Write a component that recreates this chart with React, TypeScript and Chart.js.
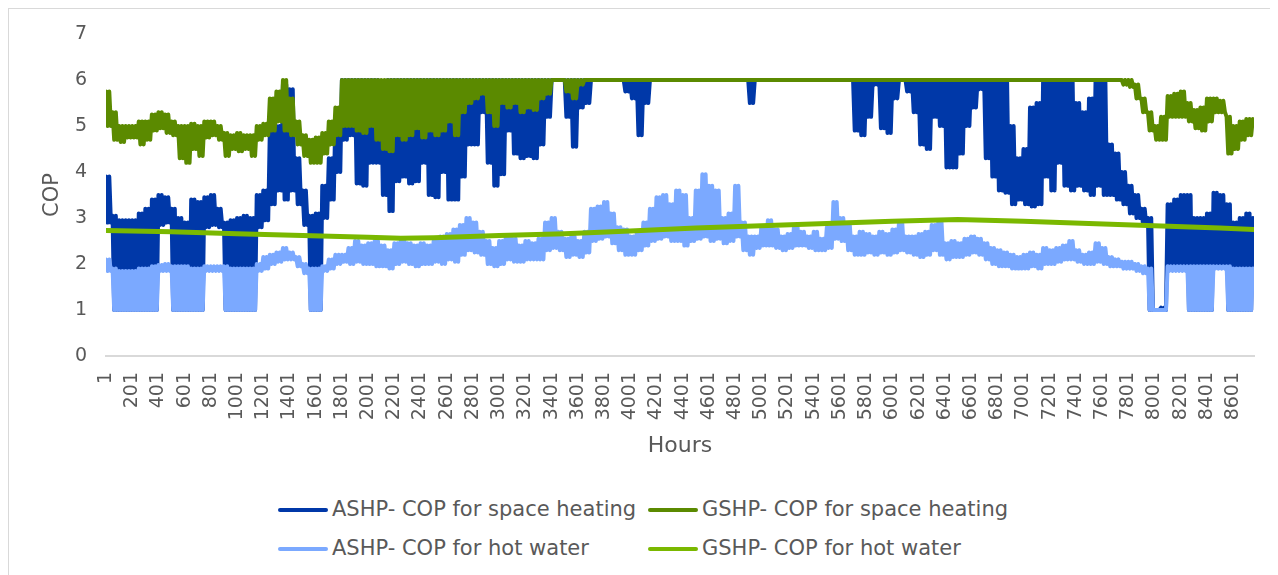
import React, { useEffect, useRef } from 'react';
import { Chart, registerables } from 'chart.js';

Chart.register(...registerables);

// Hourly COP, as upper / lower envelope per 50-hour block
// (block b covers hours 1+50b .. 50+50b)
const BLOCK_HOURS = 50;
const LAST_HOUR = 8760;

const ashpSpaceHi = [
  3.9, 3.05, 2.95, 2.95, 2.95, 3.1, 3.2, 3.4, 3.5, 3.45,
  3.2, 3.0, 2.9, 3.4, 3.35, 3.45, 3.5, 3.2, 2.9, 2.95,
  3.0, 3.05, 3.0, 3.5, 3.6, 4.9, 5.0, 5.9, 5.8, 4.3,
  3.6, 3.05, 3.1, 3.7, 4.3, 5.2, 6, 6, 6, 6,
  6, 6, 5.9, 6, 6, 6, 6, 6, 6, 6,
  6, 6, 6, 6, 6, 6, 6, 6, 6, 6,
  6, 6, 6, 6, 6, 6, 6, 6, 6, 6,
  6, 6, 6, 6, 6, 6, 6, 6, 6, 6,
  6, 6, 6, 6, 6, 6, 6, 6, 6, 6,
  6, 6, 6, 6, 6, 6, 6, 6, 6, 6,
  6, 6, 6, 6, 6, 6, 6, 6, 6, 6,
  6, 6, 6, 6, 6, 6, 6, 6, 6, 6,
  6, 6, 6, 6, 6, 6, 6, 6, 6, 6,
  6, 6, 6, 6, 6, 6, 6, 6, 5.0, 4.3,
  4.5, 5.4, 5.5, 6, 6, 6, 6, 6, 5.5, 5.3,
  5.6, 6, 6, 4.6, 4.4, 4.0, 3.7, 3.5, 3.2, 3.0,
  1.0, 1.05, 3.3, 3.4, 3.5, 3.5, 3.0, 3.0, 3.1, 3.55,
  3.5, 3.3, 2.9, 3.0, 3.1, 3.0,
];
const ashpSpaceLo = [
  2.9, 1, 1, 1, 1, 1, 1, 1, 2.85, 2.9,
  1, 1, 1, 1, 1, 2.8, 2.85, 2.8, 1, 1,
  1, 1, 1, 2.8, 2.95, 3.3, 3.6, 3.4, 3.6, 3.3,
  2.85, 1, 1, 3.0, 3.4, 4.0, 4.7, 4.8, 3.75, 3.7,
  4.2, 4.2, 3.5, 3.15, 3.8, 3.9, 3.75, 3.8, 4.2, 3.5,
  3.45, 4.0, 3.4, 3.4, 3.9, 4.6, 4.6, 5.3, 4.2, 3.7,
  3.95, 4.9, 4.4, 4.3, 4.35, 4.3, 4.6, 5.2, 6, 6,
  5.2, 4.55, 5.4, 5.5, 6, 6, 6, 6, 6, 5.75,
  5.6, 4.8, 5.5, 6, 6, 6, 6, 6, 6, 6,
  6, 6, 6, 6, 6, 6, 6, 6, 5.5, 6,
  6, 6, 6, 6, 6, 6, 6, 6, 6, 6,
  6, 6, 6, 6, 4.9, 4.8, 5.2, 5.9, 4.95, 4.85,
  5.6, 6, 5.75, 5.3, 4.6, 4.5, 5.2, 5.0, 4.1, 4.1,
  4.4, 5.0, 5.4, 5.8, 4.3, 3.9, 3.6, 3.55, 3.3, 3.4,
  3.3, 3.25, 3.3, 3.9, 3.6, 4.2, 3.7, 3.6, 3.7, 3.6,
  3.5, 3.7, 3.5, 3.5, 3.4, 3.3, 3.1, 3.0, 2.85, 1,
  1, 1, 1.9, 1.95, 1.95, 1, 1, 1, 1, 1.95,
  1.95, 1, 1, 1, 1, 1,
];

const gshpSpaceHi = [
  5.75, 5.3, 5.0, 5.0, 5.0, 5.1, 5.1, 5.25, 5.3, 5.25,
  5.1, 5.0, 5.0, 5.05, 5.0, 5.1, 5.1, 5.0, 4.85, 4.8,
  4.85, 4.8, 4.8, 5.0, 5.05, 5.6, 5.75, 6.0, 5.6, 5.1,
  4.8, 4.7, 4.75, 4.85, 5.1, 5.4, 6, 6, 6, 6,
  6, 6, 6, 6, 6, 6, 6, 6, 6, 6,
  6, 6, 6, 6, 6, 6, 6, 6, 6, 6,
  6, 6, 6, 6, 6, 6, 6, 6, 6, 6,
  6, 6, 6, 6, 6, 6, 6, 6, 6, 6,
  6, 6, 6, 6, 6, 6, 6, 6, 6, 6,
  6, 6, 6, 6, 6, 6, 6, 6, 6, 6,
  6, 6, 6, 6, 6, 6, 6, 6, 6, 6,
  6, 6, 6, 6, 6, 6, 6, 6, 6, 6,
  6, 6, 6, 6, 6, 6, 6, 6, 6, 6,
  6, 6, 6, 6, 6, 6, 6, 6, 6, 6,
  6, 6, 6, 6, 6, 6, 6, 6, 6, 6,
  6, 6, 6, 6, 6, 6, 6, 5.9, 5.6, 5.3,
  5.0, 5.2, 5.65, 5.7, 5.75, 5.5, 5.35, 5.4, 5.6, 5.6,
  5.55, 5.2, 5.0, 5.1, 5.15, 5.15,
];
const gshpSpaceLo = [
  5.0, 4.7, 4.65, 4.75, 4.75, 4.6, 4.7, 4.9, 4.95, 4.85,
  4.8, 4.3, 4.2, 4.5, 4.35, 4.75, 4.8, 4.7, 4.35, 4.5,
  4.45, 4.5, 4.35, 4.7, 4.8, 4.9, 5.1, 4.9, 4.8, 4.6,
  4.35, 4.2, 4.2, 4.4, 4.6, 4.8, 5.0, 5.0, 4.9, 4.85,
  5.0, 4.7, 4.5, 4.45, 4.8, 4.7, 4.8, 4.95, 4.75, 4.9,
  4.8, 4.9, 5.1, 4.8, 5.3, 5.5, 5.6, 5.7, 5.3, 5.0,
  5.5, 5.4, 5.5, 5.3, 5.4, 5.35, 5.6, 5.7, 6, 6,
  5.75, 5.6, 5.9, 6, 6, 6, 6, 6, 6, 6,
  6, 6, 6, 6, 6, 6, 6, 6, 6, 6,
  6, 6, 6, 6, 6, 6, 6, 6, 6, 6,
  6, 6, 6, 6, 6, 6, 6, 6, 6, 6,
  6, 6, 6, 6, 6, 6, 6, 6, 6, 6,
  6, 6, 6, 6, 6, 6, 6, 6, 6, 6,
  6, 6, 6, 6, 6, 6, 6, 6, 6, 6,
  6, 6, 6, 6, 6, 6, 6, 6, 6, 6,
  6, 6, 6, 6, 6, 5.9, 5.85, 5.6, 5.3, 4.9,
  4.7, 4.7, 5.2, 5.2, 5.2, 5.1, 4.95, 4.9, 5.1, 5.3,
  5.3, 4.4, 4.5, 4.7, 4.8, 5.0,
];

const ashpWaterHi = [
  2.1, 1.9, 1.85, 1.85, 1.85, 1.9, 1.9, 1.95, 1.98, 2.0,
  1.95, 1.95, 1.95, 1.9, 1.9, 1.95, 1.95, 1.95, 1.95, 1.9,
  1.9, 1.9, 1.9, 2.0, 2.15, 2.2, 2.25, 2.35, 2.25, 2.15,
  2.0, 1.9, 1.9, 1.95, 2.1, 2.2, 2.2, 2.35, 2.5, 2.4,
  2.45, 2.5, 2.4, 2.3, 2.45, 2.55, 2.45, 2.4, 2.45, 2.4,
  2.5, 2.6, 2.65, 2.75, 2.85, 3.0, 2.9, 2.7, 2.5, 2.35,
  2.5, 2.6, 2.55, 2.4, 2.5, 2.45, 2.55, 2.9, 3.0, 2.7,
  2.55, 2.6, 2.5, 2.7, 3.2, 3.25, 3.35, 3.1, 2.8, 2.75,
  2.6, 2.7, 2.9, 3.2, 3.45, 3.5, 3.3, 3.6, 3.5, 3.0,
  3.6, 3.95, 3.7, 3.6, 3.0, 3.1, 3.7, 2.9, 2.6, 2.6,
  2.8, 2.95, 2.75, 2.6, 2.65, 2.85, 2.7, 2.6, 2.7, 2.55,
  2.8, 3.35, 3.0, 2.85, 2.6, 2.7, 2.65, 2.6, 2.7, 2.65,
  2.75, 2.9, 2.6, 2.6, 2.65, 2.7, 2.85, 2.9, 2.45, 2.5,
  2.45, 2.55, 2.6, 2.55, 2.45, 2.35, 2.3, 2.25, 2.2, 2.15,
  2.2, 2.25, 2.2, 2.35, 2.3, 2.35, 2.4, 2.5, 2.3, 2.2,
  2.25, 2.45, 2.35, 2.15, 2.1, 2.05, 2.05, 2.0, 1.95, 1.9,
  1.0, 1.0, 1.95, 1.95, 1.95, 1.95, 1.95, 1.95, 1.95, 1.95,
  1.95, 1.95, 1.9, 1.9, 1.9, 1.9,
];
const ashpWaterLo = [
  1.85, 1, 1, 1, 1, 1, 1, 1, 1.85, 1.85,
  1, 1, 1, 1, 1, 1.85, 1.85, 1.85, 1, 1,
  1, 1, 1, 1.85, 1.9, 2.0, 2.05, 2.1, 2.1, 1.95,
  1.8, 1, 1, 1.85, 1.9, 2.0, 2.05, 2.0, 2.05, 2.0,
  2.0, 1.95, 1.95, 1.9, 2.0, 2.05, 2.0, 1.95, 2.0, 2.0,
  2.05, 2.0, 2.1, 2.05, 2.2, 2.3, 2.25, 2.2, 2.0, 1.95,
  2.0, 2.1, 2.05, 2.05, 2.1, 2.1, 2.1, 2.3, 2.35, 2.3,
  2.15, 2.2, 2.15, 2.25, 2.5, 2.55, 2.6, 2.45, 2.3, 2.2,
  2.2, 2.3, 2.4, 2.5, 2.55, 2.6, 2.5, 2.5, 2.4, 2.5,
  2.55, 2.6, 2.5, 2.55, 2.45, 2.5, 2.6, 2.3, 2.2, 2.35,
  2.4, 2.4, 2.35, 2.3, 2.35, 2.4, 2.4, 2.35, 2.3, 2.3,
  2.35, 2.55, 2.5, 2.3, 2.2, 2.2, 2.25, 2.2, 2.25, 2.2,
  2.25, 2.3, 2.25, 2.2, 2.15, 2.2, 2.3, 2.2, 2.1, 2.15,
  2.15, 2.2, 2.25, 2.2, 2.1, 2.0, 1.95, 1.95, 1.9, 1.9,
  1.9, 1.95, 1.9, 2.0, 2.0, 2.05, 2.1, 2.1, 2.05, 2.0,
  2.0, 2.05, 2.0, 1.95, 1.95, 1.9, 1.9, 1.85, 1.8, 1,
  1, 1, 1.85, 1.85, 1.85, 1, 1, 1, 1, 1.9,
  1.9, 1, 1, 1, 1, 1,
];

const gshpWaterHours = [1, 500, 1000, 1500, 2000, 2250, 2500, 3000, 3500, 4000, 4500, 5000, 5500, 6000, 6500, 7000, 7500, 8000, 8500, 8760];
const gshpWaterCop = [2.73, 2.7, 2.66, 2.62, 2.58, 2.56, 2.57, 2.62, 2.66, 2.72, 2.78, 2.83, 2.88, 2.93, 2.97, 2.93, 2.88, 2.83, 2.78, 2.75];

const hourTickLabels = [
  1, 201, 401, 601, 801, 1001, 1201, 1401, 1601, 1801, 2001, 2201, 2401, 2601, 2801,
  3001, 3201, 3401, 3601, 3801, 4001, 4201, 4401, 4601, 4801, 5001, 5201, 5401, 5601,
  5801, 6001, 6201, 6401, 6601, 6801, 7001, 7201, 7401, 7601, 7801, 8001, 8201, 8401, 8601,
];
const copTicks = [0, 1, 2, 3, 4, 5, 6, 7];

const seriesNames = [
  'ASHP- COP for space heating',
  'GSHP- COP for space heating',
  'ASHP- COP for hot water',
  'GSHP- COP for hot water',
];
const seriesColors = ['#0038A8', '#5B8A00', '#7BA9FF', '#7AB800'];

const FONT = "'DejaVu Sans', Verdana, sans-serif";
const TEXT = '#595959';

function envelopePoints(hi: number[], lo: number[]) {
  const pts: { x: number; y: number }[] = [];
  hi.forEach((h, b) => {
    const start = 1 + b * BLOCK_HOURS;
    [0, 0.25, 0.5, 0.75].forEach((f, k) => {
      const x = start + f * BLOCK_HOURS;
      if (x <= LAST_HOUR) pts.push({ x, y: k % 2 === 0 ? h : lo[b] });
    });
  });
  return pts;
}

export default function App() {
  const ref = useRef<HTMLCanvasElement | null>(null);

  useEffect(() => {
    if (!ref.current) return;
    const common = { pointRadius: 0, borderWidth: 4, tension: 0, borderJoinStyle: 'round' as const, borderCapStyle: 'round' as const, fill: false };
    const chart = new Chart(ref.current, {
      type: 'line',
      data: {
        datasets: [
          { ...common, label: seriesNames[0], data: envelopePoints(ashpSpaceHi, ashpSpaceLo), borderColor: seriesColors[0], order: 4 },
          { ...common, label: seriesNames[1], data: envelopePoints(gshpSpaceHi, gshpSpaceLo), borderColor: seriesColors[1], order: 3 },
          { ...common, label: seriesNames[2], data: envelopePoints(ashpWaterHi, ashpWaterLo), borderColor: seriesColors[2], order: 2 },
          { ...common, label: seriesNames[3], data: gshpWaterHours.map((h, i) => ({ x: h, y: gshpWaterCop[i] })), borderColor: seriesColors[3], borderWidth: 5, order: 1 },
        ],
      },
      options: {
        animation: false,
        responsive: false,
        maintainAspectRatio: false,
        layout: { padding: { left: 0, right: 22, top: 25, bottom: 0 } },
        plugins: { legend: { display: false }, tooltip: { enabled: false } },
        scales: {
          x: {
            type: 'linear',
            min: 1,
            max: LAST_HOUR,
            afterBuildTicks: (s: any) => {
              s.ticks = hourTickLabels.map((v) => ({ value: v }));
            },
            afterFit: (s: any) => {
              s.height = 123;
              s.paddingLeft = 0;
              s.paddingRight = 0;
            },
            ticks: {
              autoSkip: false,
              maxRotation: 90,
              minRotation: 90,
              padding: 16,
              color: TEXT,
              font: { family: FONT, size: 19 },
              callback: (v: any) => String(v),
            },
            grid: { display: false, drawTicks: false },
            border: { display: true, color: '#d9d9d9', width: 2 },
            title: { display: true, text: 'Hours', color: TEXT, font: { family: FONT, size: 22 }, padding: { top: 0, bottom: 20 } },
          },
          y: {
            min: 0,
            max: 7,
            afterBuildTicks: (s: any) => {
              s.ticks = copTicks.map((v) => ({ value: v }));
            },
            afterFit: (s: any) => {
              s.width = 97;
              s.paddingTop = 0;
              s.paddingBottom = 0;
            },
            ticks: { padding: 19, color: TEXT, font: { family: FONT, size: 19 } },
            grid: { display: false, drawTicks: false },
            border: { display: false },
            title: { display: true, text: 'COP', color: TEXT, font: { family: FONT, size: 21 }, padding: { top: 31, bottom: 0 } },
          },
        },
      },
    });
    return () => chart.destroy();
  }, []);

  const swatch = (c: string) => (
    <span style={{ display: 'inline-block', width: 50, height: 4, borderRadius: 2, background: c, marginRight: 4 }} />
  );

  return (
    <div style={{ position: 'relative', width: 1267, height: 570, border: '1px solid #d9d9d9', background: '#fff', fontFamily: FONT }}>
      <canvas ref={ref} width={1267} height={470} style={{ display: 'block', width: 1267, height: 470 }} />
      <div
        style={{
          position: 'absolute',
          left: 269,
          top: 481,
          display: 'grid',
          gridTemplateColumns: '370px auto',
          color: TEXT,
          fontSize: 21,
          lineHeight: '39px',
        }}
      >
        {seriesNames.map((n, i) => (
          <div key={n} style={{ display: 'flex', alignItems: 'center', height: 39, whiteSpace: 'nowrap' }}>
            {swatch(seriesColors[i])}
            <span>{n}</span>
          </div>
        ))}
      </div>
    </div>
  );
}
